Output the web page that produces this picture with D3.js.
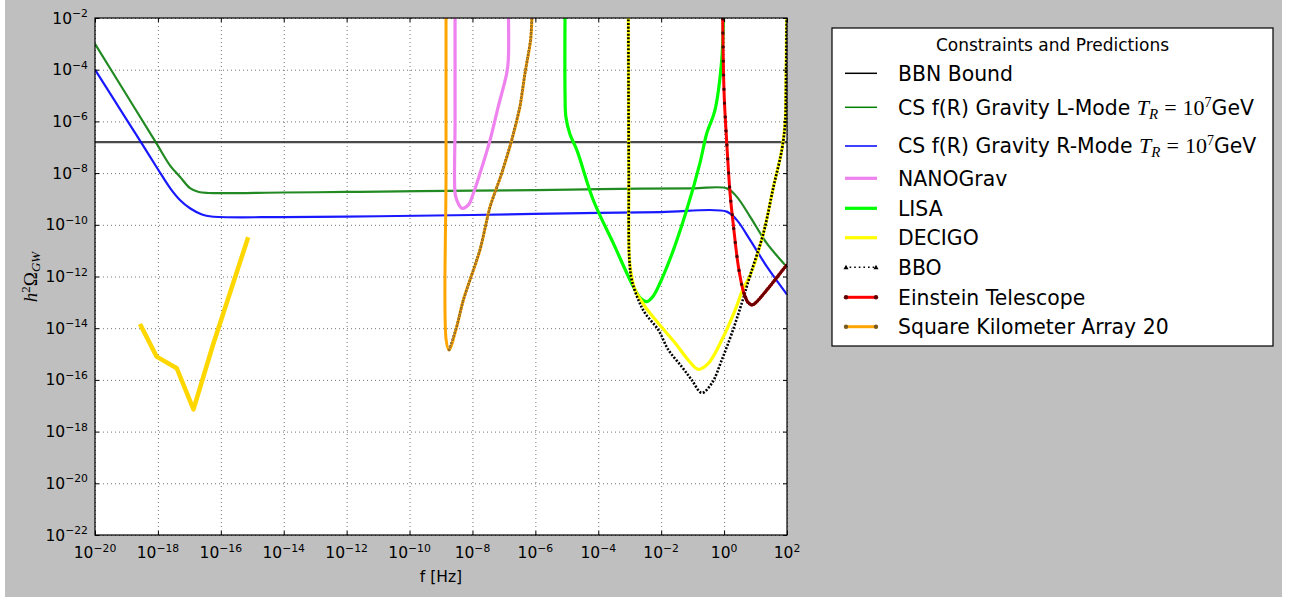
<!DOCTYPE html>
<html><head><meta charset="utf-8">
<script src="https://cdn.jsdelivr.net/npm/d3@7"></script>
<style>
body{margin:0;background:#fff;}
svg{display:block;}
text{font-family:"DejaVu Sans",sans-serif;fill:#000;}
</style>
</head><body>
<svg id="chart" width="1294" height="599"></svg>
<script>
// ---------------- data (log10 values) ----------------
const xTickExps = [-20,-18,-16,-14,-12,-10,-8,-6,-4,-2,0,2];
const yTickExps = [-22,-20,-18,-16,-14,-12,-10,-8,-6,-4,-2];

const bbnLogOmega = -6.80;   // BBN bound (horizontal)

const lMode = [[-20,-3.0],[-19,-4.97],[-18.07,-6.8],[-17.6,-7.73],[-17.3,-8.14],[-16.98,-8.58],[-16.7,-8.73],
  [-16.4,-8.77],[-14,-8.75],[-12,-8.73],[-9.7,-8.70],[-6,-8.66],[-3.94,-8.62],[-1,-8.59],[0.086,-8.59],
  [0.40,-8.91],[0.83,-9.69],[1.36,-10.72],[1.94,-11.56],[2.0,-11.65]];

const rMode = [[-20,-4.0],[-19,-5.92],[-18.54,-6.8],[-18,-7.85],[-17.6,-8.6],[-17.3,-9.04],[-16.98,-9.36],
  [-16.6,-9.6],[-16.3,-9.68],[-14,-9.70],[-11,-9.67],[-8,-9.62],[-5,-9.56],[-2,-9.51],[0.086,-9.49],
  [0.40,-9.81],[0.83,-10.59],[1.36,-11.62],[1.97,-12.65],[2.0,-12.7]];

const nanograv = [[-8.553,-1.5],[-8.553,-6.0],[-8.553,-8.78],[-8.50,-9.04],[-8.34,-9.36],[-8.13,-9.23],
  [-7.97,-8.78],[-7.76,-8.01],[-7.44,-6.72],[-7.18,-5.43],[-6.91,-4.14],[-6.86,-3.62],[-6.86,-1.5]];

const lisa = [[-5.056,-1.5],[-5.056,-5.0],[-5.03,-5.82],[-4.90,-6.5],[-4.68,-7.11],[-4.16,-9.04],[-3.52,-10.72],
  [-2.885,-12.39],[-2.65,-12.85],[-2.46,-12.97],[-2.25,-12.75],[-2.04,-12.26],[-1.61,-10.97],[-1.19,-9.43],
  [-0.77,-7.62],[-0.55,-6.46],[-0.29,-5.56],[-0.075,-3.62],[-0.02,-2.0],[-0.01,-1.5]];

const decigo = [[-3.045,-1.5],[-3.04,-4.0],[-3.03,-8.0],[-3.01,-11.36],[-2.93,-12.05],[-2.83,-12.52],
  [-2.51,-13.17],[-2.09,-13.81],[-1.55,-14.58],[-1.14,-15.23],[-0.82,-15.59],[-0.50,-15.36],[-0.074,-14.46],
  [0.35,-13.30],[0.61,-12.46],[0.83,-11.95],[1.25,-10.33],[1.57,-8.53],[1.835,-7.11],[1.94,-6.07],
  [1.97,-4.27],[1.99,-2.08],[2.0,-1.5]];

const bbo = [[-3.045,-1.5],[-3.04,-4.0],[-3.03,-8.0],[-3.01,-11.36],[-2.935,-12.14],[-2.725,-12.91],
  [-2.51,-13.42],[-2.09,-14.07],[-1.77,-14.84],[-1.345,-15.49],[-1.03,-16.00],[-0.71,-16.50],[-0.39,-16.13],
  [-0.074,-15.23],[0.245,-14.20],[0.56,-13.04],[0.83,-11.95],[1.25,-10.33],[1.57,-8.53],[1.835,-7.11],
  [1.94,-6.07],[1.97,-4.27],[1.99,-2.08],[2.0,-1.5]];

const einstein = [[-0.043,-1.5],[-0.043,-2.0],[0.0,-4.91],[0.086,-6.85],[0.19,-8.78],[0.30,-10.07],
  [0.455,-11.62],[0.63,-12.65],[0.76,-13.0],[0.89,-13.10],[1.0,-13.02],[1.36,-12.52],[1.99,-11.56],[2.0,-11.55]];
const einsteinMinIndex = 8;

const ska = [[-8.84,-1.5],[-8.84,-8.0],[-8.835,-14.46],[-8.744,-14.84],[-8.50,-13.94],[-8.29,-12.91],
  [-7.76,-10.97],[-7.44,-9.30],[-7.07,-8.01],[-6.75,-6.72],[-6.49,-5.43],[-6.33,-4.14],[-6.15,-2.85],
  [-6.11,-2.0],[-6.10,-1.5]];
const skaMinIndex = 3;

const goldCurve = [[-18.57,-13.84],[-18.04,-15.10],[-17.40,-15.55],[-16.87,-17.14],[-16.25,-14.65],[-15.13,-10.48]];

const legendTitle = "Constraints and Predictions";
const legendLabels = ["BBN Bound","CS f(R) Gravity L-Mode ","CS f(R) Gravity R-Mode ","NANOGrav","LISA",
  "DECIGO","BBO","Einstein Telescope","Square Kilometer Array 20"];

// ---------------- layout ----------------
const svg = d3.select("#chart");
const L = 95, R = 787, T = 18, B = 535;
const x = d3.scaleLog().domain([1e-20, 1e2]).range([L, R]);
const y = d3.scaleLog().domain([1e-22, 1e-2]).range([B, T]);

svg.append("rect").attr("x",5).attr("y",0).attr("width",1277).attr("height",597).attr("fill","#bfbfbf");
svg.append("rect").attr("x",L).attr("y",T).attr("width",R-L).attr("height",B-T).attr("fill","#fff");

svg.append("defs").append("clipPath").attr("id","clip")
  .append("rect").attr("x",L).attr("y",T).attr("width",R-L).attr("height",B-T);

const xVals = xTickExps.map(e => Math.pow(10, e));
const yVals = yTickExps.map(e => Math.pow(10, e));

// grid
const gx = svg.append("g").attr("transform",`translate(0,${B})`)
  .call(d3.axisBottom(x).tickValues(xVals).tickSize(-(B-T)).tickFormat(""));
const gy = svg.append("g").attr("transform",`translate(${L},0)`)
  .call(d3.axisLeft(y).tickValues(yVals).tickSize(-(R-L)).tickFormat(""));
[gx,gy].forEach(g=>{
  g.select(".domain").remove();
  g.selectAll("line").attr("stroke","#000").attr("stroke-opacity",0.55).attr("stroke-width",1).attr("stroke-dasharray","1,3");
});

// series
const plot = svg.append("g").attr("clip-path","url(#clip)");
const line = d3.line().x(d=>x(Math.pow(10,d[0]))).y(d=>y(Math.pow(10,d[1]))).curve(d3.curveCatmullRom.alpha(0.5));
const lineLin = d3.line().x(d=>x(Math.pow(10,d[0]))).y(d=>y(Math.pow(10,d[1])));

function draw(data, color, w, extra, gen){
  const p = plot.append("path").datum(data).attr("d", gen||line).attr("fill","none")
    .attr("stroke",color).attr("stroke-width",w).attr("stroke-linejoin","round").attr("stroke-linecap","butt");
  if (extra) extra(p);
  return p;
}

// BBN
plot.append("line").attr("x1",L).attr("x2",R)
  .attr("y1",y(Math.pow(10,bbnLogOmega))).attr("y2",y(Math.pow(10,bbnLogOmega)))
  .attr("stroke","#2a2a2a").attr("stroke-width",2.2).attr("stroke-opacity",0.85);

draw(lMode, "#0a7d0a", 2.2, p=>p.attr("stroke-opacity",0.9));
draw(rMode, "#0000ff", 2.2, p=>p.attr("stroke-opacity",0.9));
draw(nanograv, "#ee82ee", 3.2);
draw(lisa, "#00ff00", 3.2);
draw(decigo, "#ffff00", 3.2);
draw(bbo, "#000", 2.6, p=>p.attr("stroke-dasharray","2,1.6"));
draw(einstein, "#ff0000", 3);
draw(einstein.slice(0, einsteinMinIndex+1), "#500000", 3.4, p=>p.attr("stroke-linecap","round").attr("stroke-dasharray","0,14"));
draw(einstein.slice(einsteinMinIndex-1), "#6a0000", 3.4, p=>p.attr("stroke-linecap","round").attr("stroke-dasharray","0,2.4"));
draw(ska, "#ffa500", 3);
draw(ska.slice(skaMinIndex), "#5a4a2a", 2.8, p=>p.attr("stroke-linecap","round").attr("stroke-dasharray","0,3.6").attr("stroke-opacity",0.75), lineLin);
draw(ska.slice(skaMinIndex), "#f0b050", 1.0, p=>p.attr("stroke-linecap","round").attr("stroke-dasharray","0,3.6"), lineLin);
draw(goldCurve, "#ffd700", 4.5, null, lineLin);

// frame
svg.append("rect").attr("x",L).attr("y",T).attr("width",R-L).attr("height",B-T)
  .attr("fill","none").attr("stroke","#000").attr("stroke-width",1.2);

// ticks (inward, all sides)
function tickStyle(g){ g.select(".domain").remove(); g.selectAll("line").attr("stroke","#000").attr("stroke-width",1); g.selectAll("text").remove(); }
svg.append("g").attr("transform",`translate(0,${B})`).call(d3.axisBottom(x).tickValues(xVals).tickSize(-4)).call(tickStyle);
svg.append("g").attr("transform",`translate(0,${T})`).call(d3.axisTop(x).tickValues(xVals).tickSize(-4)).call(tickStyle);
svg.append("g").attr("transform",`translate(${L},0)`).call(d3.axisLeft(y).tickValues(yVals).tickSize(-4)).call(tickStyle);
svg.append("g").attr("transform",`translate(${R},0)`).call(d3.axisRight(y).tickValues(yVals).tickSize(-4)).call(tickStyle);

function expStr(e){ return e < 0 ? "\u2212" + Math.abs(e) : String(e); }

// x tick labels
const xl = svg.append("g");
xTickExps.forEach(e=>{
  const t = xl.append("text").attr("x", x(Math.pow(10,e))).attr("y", 558).attr("text-anchor","middle").attr("font-size",15.5);
  t.append("tspan").text("10");
  t.append("tspan").attr("font-size",10.8).attr("dy",-6.5).text(expStr(e));
});
// y tick labels
const yl = svg.append("g");
yTickExps.forEach(e=>{
  const t = yl.append("text").attr("x", 88).attr("y", y(Math.pow(10,e)) + 5.5).attr("text-anchor","end").attr("font-size",15.5);
  t.append("tspan").text("10");
  t.append("tspan").attr("font-size",10.8).attr("dy",-6.5).text(expStr(e));
});

// axis labels
svg.append("text").attr("x",441).attr("y",582).attr("text-anchor","middle").attr("font-size",15.5).text("f [Hz]");
const ylab = svg.append("text").attr("transform","translate(37,277) rotate(-90)").attr("text-anchor","middle")
  .style("font-family","'Liberation Serif','DejaVu Serif',serif").attr("font-size",19);
ylab.append("tspan").attr("font-style","italic").text("h");
ylab.append("tspan").attr("font-size",13).attr("dy",-7).text("2");
ylab.append("tspan").attr("dy",7).text("\u03A9");
ylab.append("tspan").attr("font-style","italic").attr("font-size",13).attr("dy",3).text("GW");

// ---------------- legend ----------------
const lg = svg.append("g");
lg.append("rect").attr("x",832).attr("y",28).attr("width",441).attr("height",318)
  .attr("fill","#fff").attr("stroke","#000").attr("stroke-width",1.2);
lg.append("text").attr("x",1052.5).attr("y",51).attr("text-anchor","middle").attr("font-size",17).text(legendTitle);

const rowY = [73.3,107.3,146,178.3,208.3,237.7,267.3,297.3,326.7];
const handleStyles = [
  {c:"#000", w:1.5},
  {c:"#008000", w:1.5},
  {c:"#0000ff", w:1.5},
  {c:"#ee82ee", w:3.2},
  {c:"#00ff00", w:3.2},
  {c:"#ffff00", w:3.2},
  {c:"#000", w:1.6, dash:"1.6,3", tri:true},
  {c:"#ff0000", w:3, dot:"#600000"},
  {c:"#ffa500", w:3, dot:"#7a5a20"}
];
const serif = "'Liberation Serif','DejaVu Serif',serif";
legendLabels.forEach((lab,i)=>{
  const cy = rowY[i], hs = handleStyles[i];
  const ln = lg.append("line").attr("x1",845).attr("x2",877).attr("y1",cy).attr("y2",cy)
    .attr("stroke",hs.c).attr("stroke-width",hs.w);
  if (hs.dash) ln.attr("stroke-dasharray",hs.dash);
  if (hs.tri) [846,876].forEach(px=>lg.append("path").attr("d",`M${px-2.5},${cy+2}L${px+2.5},${cy+2}L${px},${cy-2.5}Z`).attr("fill","#000"));
  if (hs.dot) [846,876].forEach(px=>lg.append("circle").attr("cx",px).attr("cy",cy).attr("r",2.2).attr("fill",hs.dot));
  const t = lg.append("text").attr("x",898).attr("y",cy+7.3).attr("font-size",20.4);
  t.append("tspan").text(lab);
  if (i === 1 || i === 2) {
    t.append("tspan").style("font-family",serif).attr("font-style","italic").attr("font-size",22).text("T");
    t.append("tspan").style("font-family",serif).attr("font-style","italic").attr("font-size",15).attr("dy",4).text("R");
    t.append("tspan").style("font-family",serif).attr("font-size",22).attr("dx",6).attr("dy",-4).text("=");
    t.append("tspan").style("font-family",serif).attr("font-size",22).attr("dx",6).text("10");
    t.append("tspan").style("font-family",serif).attr("font-size",14).attr("dy",-8).text("7");
    t.append("tspan").attr("dy",8).text("GeV");
  }
});
</script>
</body></html>
